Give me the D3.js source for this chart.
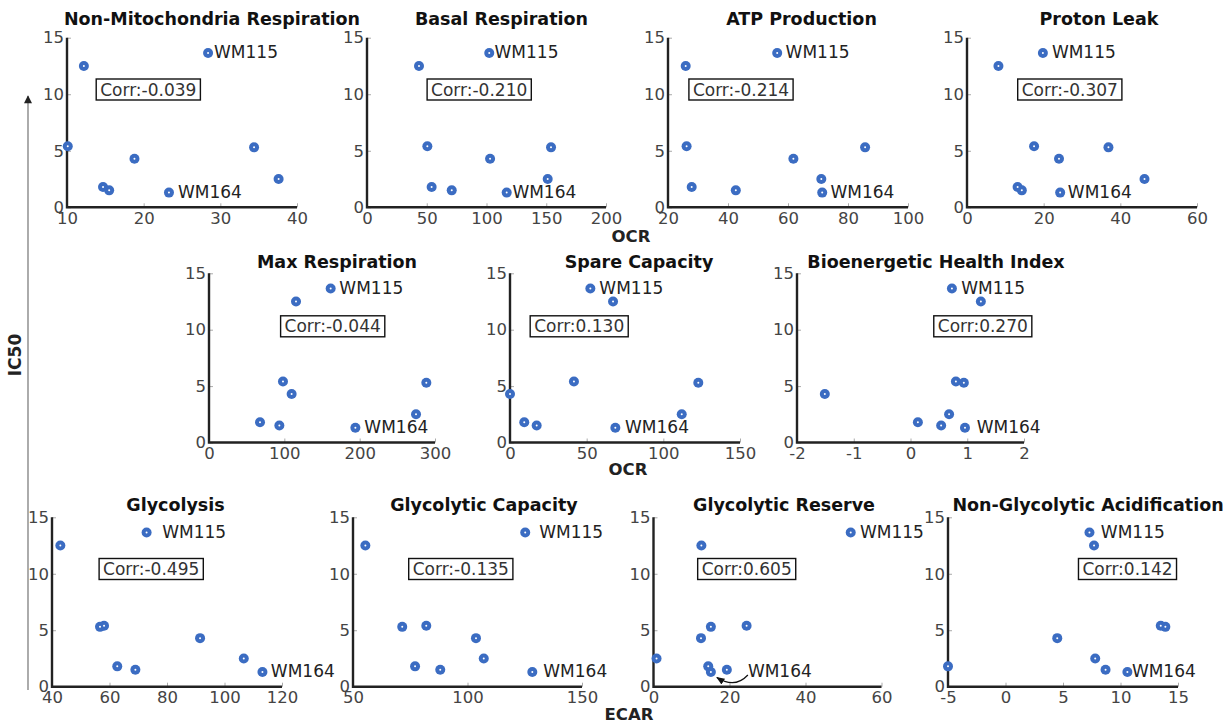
<!DOCTYPE html>
<html>
<head>
<meta charset="utf-8">
<script src="https://cdn.jsdelivr.net/npm/d3@7"></script>
<style>
  html, body { margin: 0; padding: 0; background: #fff; }
  svg { display: block; font-family: "DejaVu Sans", sans-serif; }
</style>
</head>
<body>
<svg id="chart" width="1225" height="724"></svg>
<script>
// ---------------- DATA ----------------
const ic50 = [13.65, 12.5, 5.4, 5.3, 4.3, 2.5, 1.8, 1.5, 1.3];
const cellLabels = ["WM115", "", "", "", "", "", "", "", "WM164"];

const metricNames = [
  "Non-Mitochondria Respiration", "Basal Respiration", "ATP Production", "Proton Leak",
  "Max Respiration", "Spare Capacity", "Bioenergetic Health Index",
  "Glycolysis", "Glycolytic Capacity", "Glycolytic Reserve", "Non-Glycolytic Acidification"
];
const corrLabels = ["-0.039", "-0.210", "-0.214", "-0.307", "-0.044", "0.130", "0.270",
                    "-0.495", "-0.135", "0.605", "0.142"];

const nonMito    = [28.4, 12.2, 10.1, 34.4, 18.8, 37.6, 14.7, 15.5, 23.3];
const basal      = [102.3, 43.5, 50.5, 154, 103, 151.2, 54.1, 70.9, 116.9];
const atp        = [56.4, 25.9, 26.2, 85.7, 61.8, 71.1, 27.9, 42.6, 71.4];
const protonLeak = [19.8, 8.2, 17.5, 36.9, 24.0, 46.3, 13.2, 14.3, 24.3];
const maxResp    = [161.5, 115.5, 98.2, 288.5, 109.7, 274.8, 67.7, 93.4, 194.3];
const spareCap   = [52.4, 67.2, 41.7, 122.8, 0.0, 112, 9.3, 17.4, 68.7];
const bhi        = [0.73, 1.24, 0.80, 0.94, -1.51, 0.68, 0.13, 0.54, 0.96];
const glycolysis = [72.9, 42.9, 58.1, 56.7, 91.5, 106.7, 62.7, 69.0, 113.2];
const glycCap    = [125.2, 55.4, 82.0, 71.5, 103.7, 107.1, 77.1, 88.1, 128.3];
const glycRes    = [51.9, 12.6, 24.5, 15.1, 12.5, 0.8, 14.4, 19.3, 15.1];
const nonGlyc    = [7.3, 7.7, 13.5, 13.9, 4.5, 7.8, -5.0, 8.7, 10.6];

const xTicks = [
  [10, 20, 30, 40], [0, 50, 100, 150, 200], [20, 40, 60, 80, 100], [0, 20, 40, 60],
  [0, 100, 200, 300], [0, 50, 100, 150], [-2, -1, 0, 1, 2],
  [40, 60, 80, 100, 120], [50, 100, 150], [0, 20, 40, 60], [-5, 0, 5, 10, 15]
];
const yTicks = [0, 5, 10, 15];
const seriesList = [nonMito, basal, atp, protonLeak, maxResp, spareCap, bhi,
                    glycolysis, glycCap, glycRes, nonGlyc];
const xLabels = ["OCR", "OCR", "ECAR"];
const yLabel = "IC50";

// ---------------- LAYOUT ----------------
const rows = [
  { yTop: 37.7, yBot: 207.3, titleY: 24.5, corrY: 89.5 },
  { yTop: 273.3, yBot: 442.5, titleY: 268, corrY: 326.3 },
  { yTop: 517.3, yBot: 686.7, titleY: 511, corrY: 569 }
];
const layout = [
  { row: 0, x0: 67,    x1: 297,    dom: [10, 40],  titleX: 212,   corrX: 148.3, dx: [6, 9] },
  { row: 0, x0: 367,   x1: 606,    dom: [0, 200],  titleX: 501.5, corrX: 479.2, dx: [5.3, 5.7] },
  { row: 0, x0: 668,   x1: 908,    dom: [20, 100], titleX: 801.5, corrX: 741,   dx: [8.4, 8.3] },
  { row: 0, x0: 967,   x1: 1197,   dom: [0, 60],   titleX: 1099,  corrX: 1069.8, dx: [9, 7.7] },
  { row: 1, x0: 209,   x1: 435,    dom: [0, 300],  titleX: 337,   corrX: 332.7, dx: [8.7, 9] },
  { row: 1, x0: 510,   x1: 740,    dom: [0, 150],  titleX: 639,   corrX: 579.2, dx: [9, 9.7] },
  { row: 1, x0: 797,   x1: 1024,   dom: [-2, 2],   titleX: 936,   corrX: 982.8, dx: [9.3, 11.7] },
  { row: 2, x0: 52,    x1: 282,    dom: [40, 120], titleX: 175.5, corrX: 151.2, dx: [15.6, 8.4] },
  { row: 2, x0: 353,   x1: 582,    dom: [50, 150], titleX: 484,   corrX: 460.8, dx: [14, 11] },
  { row: 2, x0: 653.5, x1: 881.5,  dom: [0, 60],   titleX: 784,   corrX: 746.7, dx: [9.3, 37], arrow164: true },
  { row: 2, x0: 948,   x1: 1178,   dom: [-5, 15],  titleX: 1088,  corrX: 1127.5, dx: [11.4, 4.5] }
];
const xLabelPos = [ { x: 631, y: 242 }, { x: 628, y: 475 }, { x: 629, y: 720 } ];

const C = {
  axis: "#222", tick: "#444", tickMark: "#aaa", title: "#111",
  dot: "#3b6cc2", label: "#222", corr: "#333"
};

// ---------------- DRAW ----------------
const svg = d3.select("#chart");
const defs = svg.append("defs");
defs.append("marker").attr("id", "ah").attr("viewBox", "0 0 10 10")
  .attr("refX", 9).attr("refY", 5).attr("markerWidth", 7).attr("markerHeight", 7)
  .attr("orient", "auto")
  .append("path").attr("d", "M0,1 L10,5 L0,9 Z").attr("fill", "#111");
defs.append("marker").attr("id", "ahBig").attr("viewBox", "0 0 10 10")
  .attr("refX", 9).attr("refY", 5).attr("markerWidth", 10).attr("markerHeight", 8)
  .attr("markerUnits", "userSpaceOnUse")
  .attr("orient", "auto")
  .append("path").attr("d", "M0,0 L10,5 L0,10 Z").attr("fill", "#222");

// shared y label + arrow
svg.append("line").attr("x1", 28).attr("x2", 28).attr("y1", 690).attr("y2", 96)
  .attr("stroke", "#888").attr("stroke-width", 1.4).attr("marker-end", "url(#ahBig)");
svg.append("text").attr("transform", "translate(21,355) rotate(-90)")
  .attr("text-anchor", "middle").attr("font-size", 17).attr("font-weight", "bold")
  .attr("fill", "#222").text(yLabel);

xLabels.forEach((t, i) => {
  svg.append("text").attr("x", xLabelPos[i].x).attr("y", xLabelPos[i].y)
    .attr("text-anchor", "middle").attr("font-size", 16.5).attr("font-weight", "bold")
    .attr("fill", "#222").text(t);
});

const fmt = d => String(d);

layout.forEach((L, i) => {
  const R = rows[L.row];
  const x = d3.scaleLinear().domain(L.dom).range([L.x0, L.x1]);
  const y = d3.scaleLinear().domain([0, 15]).range([R.yBot, R.yTop]);
  const g = svg.append("g");

  // x axis
  const xa = g.append("g").attr("transform", `translate(0,${R.yBot})`)
    .call(d3.axisBottom(x).tickValues(xTicks[i]).tickSize(-4).tickPadding(6).tickFormat(fmt));
  xa.select(".domain").remove();
  xa.selectAll(".tick line").attr("stroke", C.tickMark).attr("stroke-width", 1);
  xa.selectAll(".tick text").attr("font-size", 16.5).attr("fill", C.tick)
    .attr("font-family", "DejaVu Sans").attr("y", 5).attr("dy", "0.71em");

  // y axis
  const ya = g.append("g").attr("transform", `translate(${L.x0},0)`)
    .call(d3.axisLeft(y).tickValues(yTicks).tickSize(-4).tickPadding(4).tickFormat(fmt));
  ya.select(".domain").remove();
  ya.selectAll(".tick line").attr("stroke", C.tickMark).attr("stroke-width", 1);
  ya.selectAll(".tick text").attr("font-size", 16.5).attr("fill", C.tick)
    .attr("font-family", "DejaVu Sans").attr("x", -3);

  // axis lines
  g.append("path")
    .attr("d", `M${L.x0},${R.yTop}V${R.yBot}H${L.x1}`)
    .attr("fill", "none").attr("stroke", C.axis).attr("stroke-width", 2.4);

  // title
  g.append("text").attr("x", L.titleX).attr("y", R.titleY)
    .attr("text-anchor", "middle").attr("font-size", 17.5).attr("font-weight", "bold")
    .attr("fill", C.title).text(metricNames[i]);

  // corr box
  const cg = g.append("g");
  const rect = cg.append("rect");
  const ct = cg.append("text").attr("x", L.corrX).attr("y", R.corrY)
    .attr("text-anchor", "middle").attr("dominant-baseline", "central")
    .attr("font-size", 17).attr("fill", C.corr).text("Corr:" + corrLabels[i]);
  const w = ct.node().getComputedTextLength() + 8;
  rect.attr("x", L.corrX - w / 2).attr("y", R.corrY - 10.5)
    .attr("width", w).attr("height", 21)
    .attr("fill", "#fff").attr("stroke", "#111").attr("stroke-width", 1.4);

  // points
  const vals = seriesList[i];
  const pts = vals.map((v, k) => ({ x: v, y: ic50[k], lab: cellLabels[k], k }));
  g.selectAll("circle.dot").data(pts).join("circle").attr("class", "dot")
    .attr("cx", d => x(d.x)).attr("cy", d => y(d.y)).attr("r", 5)
    .attr("fill", C.dot);
  g.selectAll("circle.cen").data(pts).join("circle").attr("class", "cen")
    .attr("cx", d => x(d.x)).attr("cy", d => y(d.y)).attr("r", 1)
    .attr("fill", "#fff");

  // labels
  pts.filter(d => d.lab).forEach(d => {
    const which = d.k === 0 ? 0 : 1;
    const px = x(d.x), py = y(d.y);
    const tx = px + L.dx[which];
    g.append("text").attr("x", tx).attr("y", py - 1)
      .attr("dominant-baseline", "central").attr("font-size", 17)
      .attr("fill", C.label).text(d.lab);
    if (which === 1 && L.arrow164) {
      g.append("path")
        .attr("d", `M${px + 37},${py + 3} Q${px + 24},${py + 17} ${px + 6},${py + 5.5}`)
        .attr("fill", "none").attr("stroke", "#111").attr("stroke-width", 1.2)
        .attr("marker-end", "url(#ah)");
    }
  });
});
</script>
</body>
</html>
